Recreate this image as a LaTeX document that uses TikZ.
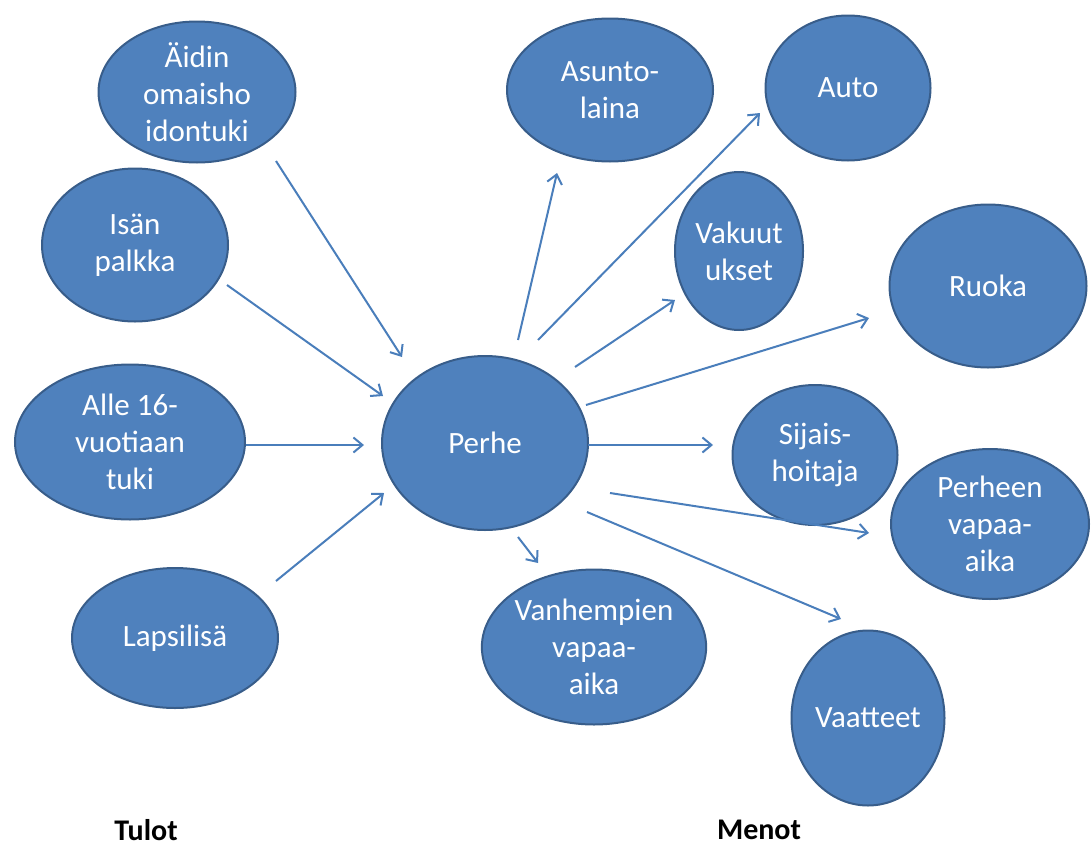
\documentclass[tikz,border=0pt]{standalone}
\usepackage{fontspec}
\setmainfont{Carlito}
\usepackage{xcolor}
\usetikzlibrary{shapes.geometric, arrows.meta}
\definecolor{ballfill}{HTML}{4F81BD}
\definecolor{balledge}{HTML}{385D8A}
\definecolor{arrowblue}{HTML}{4A7EBB}

\tikzset{
  ball/.style={ellipse, fill=ballfill, draw=balledge, line width=2pt, inner sep=0pt,
    text=white, align=center, font=\fontsize{31}{37}\selectfont},
  flow/.style={draw=arrowblue, line width=2pt, -{Straight Barb[length=9pt, width=15pt, line width=2pt]}},
  heading/.style={font=\fontsize{30}{34}\selectfont\bfseries, text=black}
}

\begin{document}
\begin{tikzpicture}[x=1pt, y=-1pt]
\useasboundingbox (0,0) rectangle (1092,846);

% tulot
\node[ball, minimum width=197pt, minimum height=141pt] (aidin) at (197,92) {Äidin\\omaisho\\idontuki};
\node[ball, minimum width=186pt, minimum height=153pt] (isan) at (135,245) {Isän\\palkka};
\node[ball, minimum width=230pt, minimum height=155pt] (alle) at (130,442) {Alle 16-\\vuotiaan\\tuki};
\node[ball, minimum width=206pt, minimum height=140pt] (lapsi) at (175,638) {Lapsilisä};

\node[ball, minimum width=206pt, minimum height=174pt] (perhe) at (485,443) {Perhe};

% menot
\node[ball, minimum width=206pt, minimum height=143pt] (asunto) at (610,90) {Asunto-\\laina};
\node[ball, minimum width=165pt, minimum height=145pt] (auto) at (848,88) {Auto};
\node[ball, minimum width=128pt, minimum height=158pt] (vakuut) at (739,251) {Vakuut\\ukset};
\node[ball, minimum width=197pt, minimum height=163pt] (ruoka) at (988,286) {Ruoka};
\node[ball, minimum width=165pt, minimum height=140pt] (sijais) at (815,455) {Sijais-\\hoitaja};
\node[ball, minimum width=198pt, minimum height=150pt] (pvapaa) at (990,524) {Perheen\\vapaa-\\aika};
\node[ball, minimum width=222pt, minimum height=155pt] (vvapaa) at (594,647) {Vanhempien\\vapaa-\\aika};
\node[ball, minimum width=153pt, minimum height=175pt] (vaatteet) at (868,718) {Vaatteet};

\node[heading] (tulot) at (146,830) {Tulot};
\node[heading] (menot) at (759,830) {Menot};

% arrow ends
\coordinate (a1) at (276,161); \coordinate (b1) at (402,357);
\coordinate (a2) at (227,285); \coordinate (b2) at (383,396);
\coordinate (a3) at (246,445); \coordinate (b3) at (364,445);
\coordinate (a4) at (276,581); \coordinate (b4) at (384,493);
\coordinate (a5) at (518,340); \coordinate (b5) at (557,173);
\coordinate (a6) at (538,340); \coordinate (b6) at (760,113);
\coordinate (a7) at (575,367); \coordinate (b7) at (675,300);
\coordinate (a8) at (586,405); \coordinate (b8) at (869,318);
\coordinate (a9) at (588,445); \coordinate (b9) at (713,445);
\coordinate (a10) at (610,493); \coordinate (b10) at (869,533);
\coordinate (a11) at (587,512); \coordinate (b11) at (841,619);
\coordinate (a12) at (518,537); \coordinate (b12) at (538,563);

\foreach \i in {1,...,12}
  \draw[flow] (a\i) -- (b\i);
\end{tikzpicture}
\end{document}
